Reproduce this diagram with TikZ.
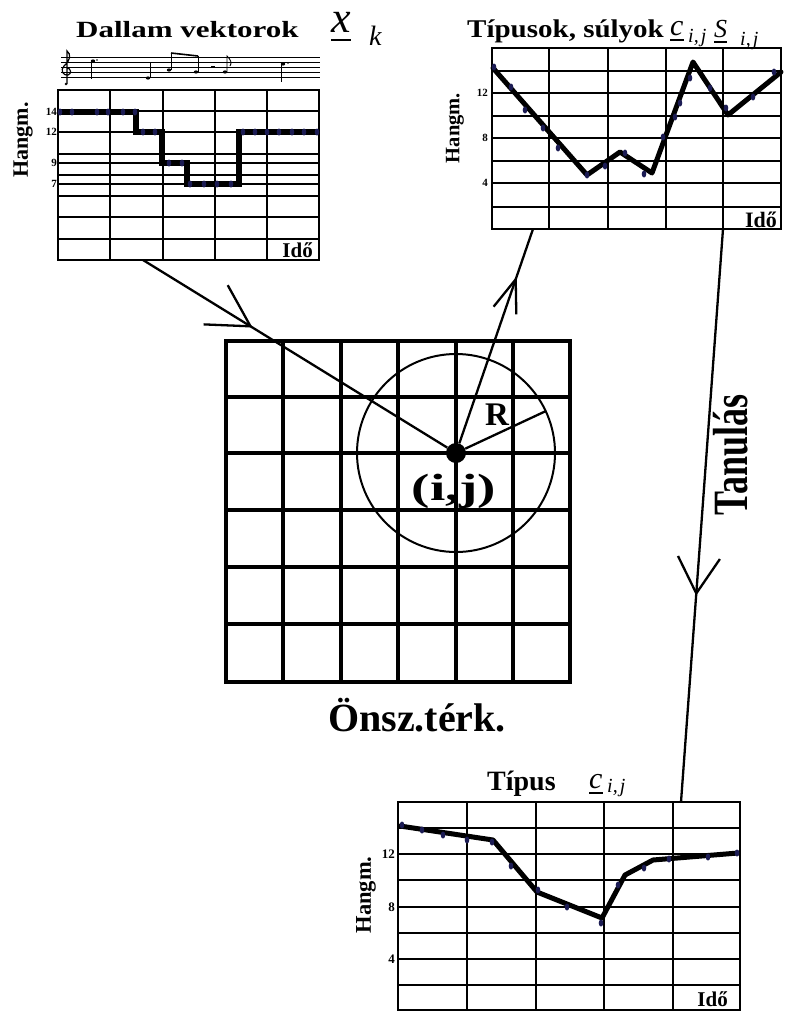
\documentclass[tikz,border=0pt]{standalone}
\usepackage{graphicx}
\usepackage{fontspec}
\setmainfont{Liberation Serif}
\usetikzlibrary{arrows.meta,decorations.markings}
\definecolor{dotblue}{RGB}{28,28,84}
\newcommand{\fs}[1]{\fontsize{#1}{#1}\selectfont}

\begin{document}
\begin{tikzpicture}[x=1pt,y=-1pt,
  chartline/.style={line width=1.3pt},
  chartframe/.style={line width=2pt},
  somline/.style={line width=3.5pt},
  melody/.style={line width=5pt,line join=round,line cap=round},
  sample/.style={fill=dotblue,draw=none},
  lbl/.style={inner sep=0pt,font=\bfseries},
  link/.style={line width=2.3pt},
  midbarb/.style n args={3}{postaction={decorate},decoration={markings,
    mark=at position #1 with {\arrow[line width=2.3pt]{Straight Barb[length=#2,width=#3]}}}}]
  \useasboundingbox (0,0) rectangle (789,1012);

  % Dallam vektorok
  \foreach \y in {57,62,67,72,77} \draw[line width=0.8pt] (61,\y) -- (320,\y);
  \draw[line width=1.2pt] (67,84) -- (67,51) .. controls (71,54) and (71,60) .. (64,66)
    .. controls (60,70) and (63,76) .. (68,75) .. controls (72,74) and (71,68) .. (67,68);
  \fill (66,84) circle (1.3);
  \fill (93,61) ellipse (2.2 and 1.6); \draw[line width=0.9pt] (91,61) -- (91,79); \fill (97,60) circle (0.8);
  \fill (148,78) ellipse (2.2 and 1.6); \draw[line width=0.9pt] (150,78) -- (150,63);
  \fill (169,70) ellipse (2.2 and 1.6); \draw[line width=0.9pt] (171,70) -- (171,53);
  \fill (196,72) ellipse (2.2 and 1.6); \draw[line width=0.9pt] (198,72) -- (198,56);
  \draw[line width=1.6pt] (171,53) -- (198,56);
  \draw[line width=1.4pt] (211,67) -- (215,67);
  \fill (225,72) ellipse (2.2 and 1.6); \draw[line width=0.9pt] (227,72) -- (227,56) .. controls (231,60) and (232,63) .. (230,66);
  \fill (283,64) ellipse (2.2 and 1.6); \draw[line width=0.9pt] (281,64) -- (281,82); \fill (288,63) circle (0.8);

  \foreach \y in {111,132,154,163,175,184,196,217,239} \draw[chartline] (58,\y) -- (319,\y);
  \foreach \x in {110,163,215,267} \draw[chartline] (\x,90) -- (\x,260);
  \draw[chartframe] (58,90) rectangle (319,260);
  \draw[melody,line width=6.5pt,line join=miter,line cap=butt] (58,112) -- (136,112) -- (136,132) -- (162,132) -- (162,163)
    -- (187,163) -- (187,184) -- (239,184) -- (239,132) -- (319,132);
  \foreach \x/\y in {60/112,72/112,97/112,108/112,123/112,135/112,143/132,155/132,169/163,182/163,
    190/184,204/184,217/184,231/184,243/132,255/132,267/132,279/132,292/132,304/132,317/132}
    \fill[sample] (\x,\y) ellipse (2.3 and 3.5);

  \node[lbl,anchor=base west,font=\bfseries\fs{31}] (dallam) at (76,37) {\scalebox{1}[0.75]{Dallam vektorok}};
  \node[lbl,anchor=base west,font=\itshape\fs{44}] (xvec) at (331,32) {x};
  \node[lbl,anchor=base west,font=\itshape\fs{28}] (xidx) at (369,45) {k};
  \draw[line width=1.5pt] ([yshift=-8pt]xvec.base west) -- ([yshift=-8pt]xvec.base east);
  \node[lbl,rotate=90,font=\bfseries\fs{22}] (hangma) at (23,140) {Hangm.};
  \node[lbl,anchor=east,font=\bfseries\fs{11}] (a14) at (57,112) {14};
  \node[lbl,anchor=east,font=\bfseries\fs{11}] (a12) at (57,132) {12};
  \node[lbl,anchor=east,font=\bfseries\fs{11}] (a9) at (57,163) {9};
  \node[lbl,anchor=east,font=\bfseries\fs{11}] (a7) at (57,184) {7};
  \node[lbl,anchor=base east,font=\bfseries\fs{21}] (idoa) at (313,257) {Idő};

  % Tipusok, sulyok
  \foreach \y in {71,93,116,138,161,183,207} \draw[chartline] (492,\y) -- (781,\y);
  \foreach \x in {549,608,666,723} \draw[chartline] (\x,48) -- (\x,229);
  \draw[chartframe] (492,48) rectangle (781,229);
  \draw[melody] (493,68) -- (587,175) -- (620,152) -- (652,173) -- (693,62) -- (728,115) -- (781,72);
  \foreach \x/\y in {494/67,511/87,525/110,543/128,558/148,587/175,605/166,625/153,644/174,663/137,
    675/117,680/103,690/78,710/88,726/108,753/97,774/72}
    \fill[sample] (\x,\y) ellipse (2.3 and 3.5);

  \node[lbl,anchor=base west,font=\bfseries\fs{29}] (sulyok) at (467,37) {\scalebox{1}[0.88]{Típusok, súlyok}};
  \node[lbl,anchor=base west,font=\itshape\fs{30}] (cvec) at (670,35) {c};
  \node[lbl,anchor=base west,font=\itshape\fs{20}] (cidx) at (688,42) {i,\kern2pt j};
  \draw[line width=1.3pt] ([yshift=-5pt]cvec.base west) -- ([yshift=-5pt]cvec.base east);
  \node[lbl,anchor=base west,font=\itshape\fs{26}] (svec) at (714,37) {S};
  \node[lbl,anchor=base west,font=\itshape\fs{20}] (sidx) at (740,45) {i,\kern2pt j};
  \draw[line width=1.3pt] ([yshift=-5pt]svec.base west) -- ([yshift=-5pt]svec.base east);
  \node[lbl,rotate=90,font=\bfseries\fs{20.5}] (hangmb) at (455,128) {Hangm.};
  \node[lbl,anchor=east,font=\bfseries\fs{11}] (b12) at (488,93) {12};
  \node[lbl,anchor=east,font=\bfseries\fs{11}] (b8) at (488,138) {8};
  \node[lbl,anchor=east,font=\bfseries\fs{11}] (b4) at (488,183) {4};
  \node[lbl,anchor=base east,font=\bfseries\fs{22}] (idob) at (777,227) {Idő};

  % Tipus
  \foreach \y in {828,854,880,907,933,959,985} \draw[chartline] (398,\y) -- (740,\y);
  \foreach \x in {467,536,604,673} \draw[chartline] (\x,802) -- (\x,1010);
  \draw[chartframe] (398,802) rectangle (740,1010);
  \draw[melody] (400,826) -- (493,840) -- (537,892) -- (602,918) -- (625,875) -- (653,860) -- (738,853);
  \foreach \x/\y in {402/825,422/830,443/835,467/840,492/842,511/866,538/890,567/907,601/923,
    618/885,644/868,669/859,708/857,737/853}
    \fill[sample] (\x,\y) ellipse (2.3 and 3.5);

  \node[lbl,anchor=base west,font=\bfseries\fs{28}] (tipus) at (487,790) {Típus};
  \node[lbl,anchor=base west,font=\itshape\fs{30}] (tvec) at (589,788) {c};
  \node[lbl,anchor=base west,font=\itshape\fs{20}] (tidx) at (607,792) {i,\kern2pt j};
  \draw[line width=1.3pt] ([yshift=-5pt]tvec.base west) -- ([yshift=-5pt]tvec.base east);
  \node[lbl,rotate=90,font=\bfseries\fs{22.5}] (hangmc) at (366,895) {Hangm.};
  \node[lbl,anchor=east,font=\bfseries\fs{13}] (c12) at (395,854) {12};
  \node[lbl,anchor=east,font=\bfseries\fs{13}] (c8) at (395,907) {8};
  \node[lbl,anchor=east,font=\bfseries\fs{13}] (c4) at (395,959) {4};
  \node[lbl,anchor=base east,font=\bfseries\fs{21}] (idoc) at (728,1006) {Idő};

  % Onszervezo terkep
  \foreach \v in {283,341,398,456,513} \draw[somline] (\v,341) -- (\v,682);
  \foreach \v in {397,453,510,567,624} \draw[somline] (226,\v) -- (570,\v);
  \draw[somline] (226,341) rectangle (570,682);
  \node[circle,fill,inner sep=0pt,minimum size=20pt] (bmu) at (456,453) {};
  \draw[line width=2pt] (bmu.center) circle[radius=99];
  \coordinate (rim) at (546,411);
  \draw[link] (bmu) -- (rim);
  \node[lbl,anchor=base,font=\bfseries\fs{33}] (rlbl) at (497,425) {R};
  \node[lbl,anchor=base,font=\bfseries\fs{38}] (ij) at (454,500) {\scalebox{1.45}[1]{(i,j)}};
  \node[lbl,anchor=base,font=\bfseries\fs{40}] (onsz) at (417,731) {Önsz.térk.};

  \coordinate (dallam-out) at (143,260);
  \coordinate (sulyok-in) at (533,229);
  \coordinate (sulyok-out) at (723,229);
  \coordinate (tipus-in) at (681,802);
  \draw[link,midbarb={0.36}{41pt}{46pt}] (dallam-out) -- (bmu);
  \draw[link,midbarb={0.78}{33pt}{24pt}] (bmu) -- (sulyok-in);
  \draw[link,midbarb={0.64}{36pt}{42pt}] (sulyok-out) -- (tipus-in);
  \node[lbl,font=\bfseries\fs{36}] (tanulas) at (731,455) {\rotatebox{90}{\scalebox{1}[1.37]{Tanulás}}};
\end{tikzpicture}
\end{document}
